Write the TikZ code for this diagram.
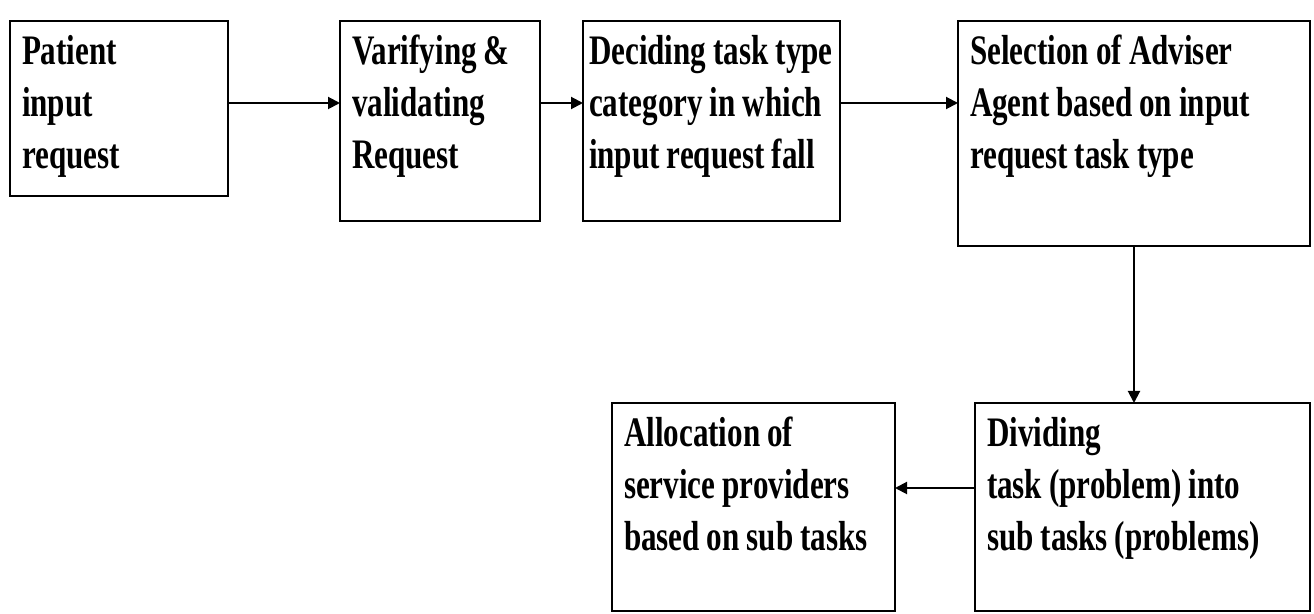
\documentclass[tikz,border=0pt]{standalone}
\usepackage{fontspec}
\newfontfamily\boxfont{Liberation Serif}[FakeStretch=0.74]
\usetikzlibrary{arrows.meta,positioning}

\begin{document}
\begin{tikzpicture}[
        box/.style={draw, line width=1.2pt, outer sep=0pt, align=left, inner xsep=6pt, inner ysep=6pt, text height=16pt,
            font=\boxfont\bfseries\fontsize{21pt}{26pt}\selectfont, execute at begin node={\spaceskip=3.5pt plus 1pt minus 0.5pt\relax}},
        arrow/.style={-{Triangle[length=6pt,width=6pt]}, line width=1pt}
    ]
        \useasboundingbox (0,0) rectangle (657pt,-307pt);
        \node[box, text width=97pt, text depth=59.5pt, anchor=north west] (patient) at (5pt,-10.5pt) {Patient\\input\\request};
        \node[box, text width=88pt, text depth=72pt, right=56pt of patient.north east, anchor=north west] (verify) {Varifying \&\\validating\\Request};
        \node[box, inner xsep=3pt, text width=122.5pt, text depth=72pt, right=21.5pt of verify.north east, anchor=north west] (decide) {Deciding task type\\category in which\\input request fall};
        \node[box, text width=164pt, text depth=84.5pt, right=59pt of decide.north east, anchor=north west] (adviser) {Selection of Adviser\\Agent based on input\\request task type};
        \node[box, text width=155.5pt, text depth=76pt, below=78.5pt of adviser.south east, anchor=north east] (divide) {Dividing\\task (problem) into\\sub tasks (problems)};
        \node[box, text width=129.5pt, text depth=76pt, left=40pt of divide.north west, anchor=north east] (alloc) {Allocation of\\service providers\\based on sub tasks};
        \coordinate (row) at (0,-51.5pt);
        \draw[arrow] (patient.east |- row) -- (verify.west |- row);
        \draw[arrow] (verify.east |- row) -- (decide.west |- row);
        \draw[arrow] (decide.east |- row) -- (adviser.west |- row);
        \draw[arrow] (adviser.south) -- (adviser.south |- divide.north);
        \draw[arrow] ([yshift=9.5pt]divide.west) -- ([yshift=9.5pt]divide.west -| alloc.east);
    \end{tikzpicture}
\end{document}
